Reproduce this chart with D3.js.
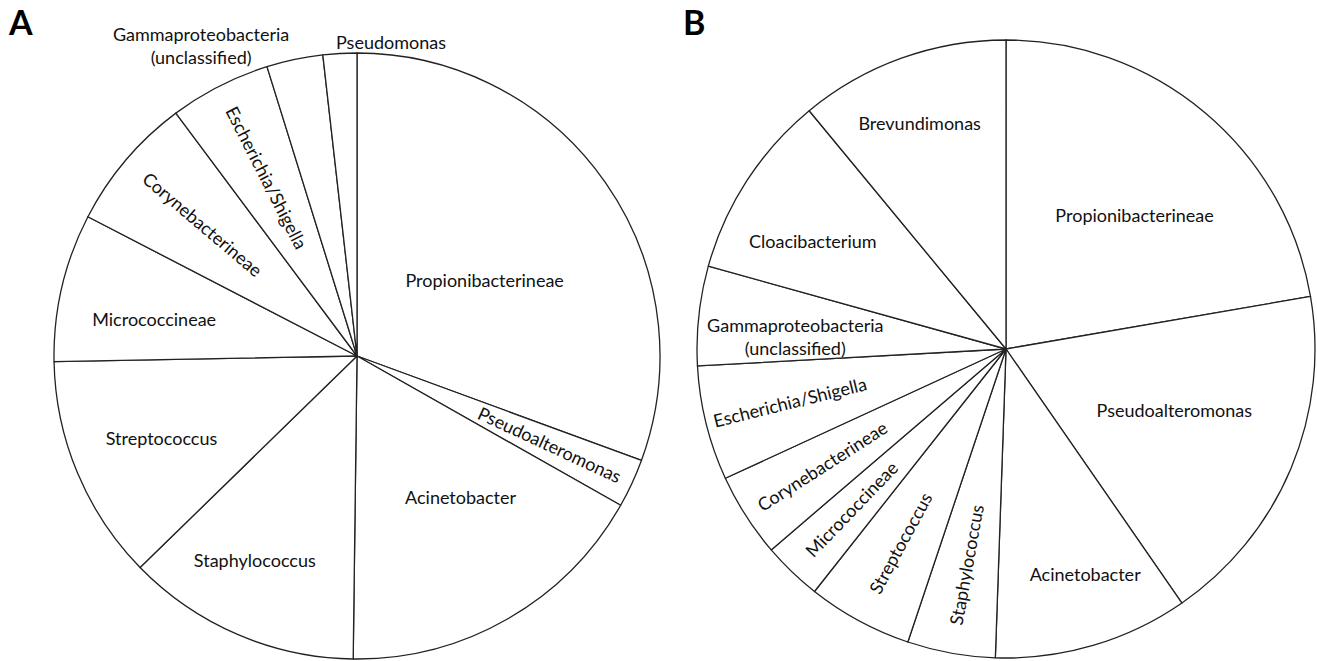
<!DOCTYPE html>
<html>
<head>
<meta charset="utf-8">
<script src="https://cdn.jsdelivr.net/npm/d3@7"></script>
<style>
  body { margin: 0; background: #fff; }
  .lbl { font-family: Lato, "Open Sans", sans-serif; font-size: 18px; fill: #111; }
  .panel { font-family: Lato, "Open Sans", sans-serif; font-size: 34px; font-weight: bold; fill: #000; }
</style>
</head>
<body>
<div class="chart"></div>
<script>
// panel A data (share of reads, %), read clockwise from 12 o'clock
var namesA = ["Propionibacterineae", "Pseudoalteromonas", "Acinetobacter", "Staphylococcus",
    "Streptococcus", "Micrococcineae", "Corynebacterineae", "Escherichia/Shigella",
    "Gammaproteobacteria\n(unclassified)", "Pseudomonas"];
var valuesA = [30.6, 2.6, 17.0, 12.5, 12.0, 7.9, 7.2, 5.4, 3.0, 1.8];

// panel B data
var namesB = ["Propionibacterineae", "Pseudoalteromonas", "Acinetobacter", "Staphylococcus",
    "Streptococcus", "Micrococcineae", "Corynebacterineae", "Escherichia/Shigella",
    "Gammaproteobacteria\n(unclassified)", "Cloacibacterium", "Brevundimonas"];
var valuesB = [22.3, 18.1, 10.2, 4.6, 5.5, 3.1, 4.4, 6.0, 5.2, 9.7, 11.0];

// where each label sits: "rad" = rotated along the slice middle, else polar angle (deg) + radius fraction
var placeA = [
    {a: 59.3, r: 0.49}, {rad: true, r: 0.70}, {a: 143.9, r: 0.58}, {a: 206.5, r: 0.756},
    {a: 247.2, r: 0.70}, {a: 280.1, r: 0.68}, {rad: true, r: 0.67}, {rad: true, r: 0.66},
    {a: 333.3, r: 1.145}, {a: 6.2, r: 1.04}
];
var placeB = [
    {a: 43.9, r: 0.60}, {a: 110.1, r: 0.58}, {a: 160.7, r: 0.775}, {rad: true, r: 0.71},
    {rad: true, r: 0.715}, {rad: true, r: 0.72}, {rad: true, r: 0.705}, {rad: true, r: 0.72},
    {a: 273.3, r: 0.683}, {a: 299, r: 0.715}, {a: 339, r: 0.78}
];

var svgWidth = 1317;
var svgHeight = 661;

var svg = d3.select(".chart")
    .append("svg")
    .attr("width", svgWidth)
    .attr("height", svgHeight);

function drawPie(names, values, place, cx, cy, radius, letter, lx) {
    var g = svg.append("g")
        .attr("transform", `translate(${cx}, ${cy})`);

    var pie = d3.pie().sort(null).value(d => d);
    var arcs = pie(values);
    var arc = d3.arc().innerRadius(0).outerRadius(radius);

    g.selectAll("path")
        .data(arcs)
        .enter()
        .append("path")
        .attr("d", arc)
        .attr("fill", "white")
        .attr("stroke", "#222")
        .attr("stroke-width", 1.3)
        .attr("stroke-linejoin", "round");

    arcs.forEach(function(d, i) {
        var p = place[i];
        var mid = (d.startAngle + d.endAngle) / 2;
        var ang = p.rad ? mid : p.a * Math.PI / 180;
        var x = Math.sin(ang) * p.r * radius;
        var y = -Math.cos(ang) * p.r * radius;
        var rot = 0;
        if (p.rad) {
            var deg = mid * 180 / Math.PI;
            rot = deg < 180 ? deg - 90 : deg - 270;
        }
        var lines = names[i].split("\n");
        var t = g.append("text")
            .attr("class", "lbl")
            .attr("text-anchor", "middle")
            .attr("transform", `translate(${x}, ${y}) rotate(${rot})`);
        lines.forEach(function(s, k) {
            t.append("tspan")
                .attr("x", 0)
                .attr("y", (k - (lines.length - 1) / 2) * 23)
                .attr("dy", "0.35em")
                .text(s);
        });
    });

    svg.append("text")
        .attr("class", "panel")
        .attr("x", lx)
        .attr("y", 35)
        .text(letter);
}

drawPie(namesA, valuesA, placeA, 357, 356, 303, "A", 9);
drawPie(namesB, valuesB, placeB, 1006, 349, 309, "B", 683);
</script>
</body>
</html>
